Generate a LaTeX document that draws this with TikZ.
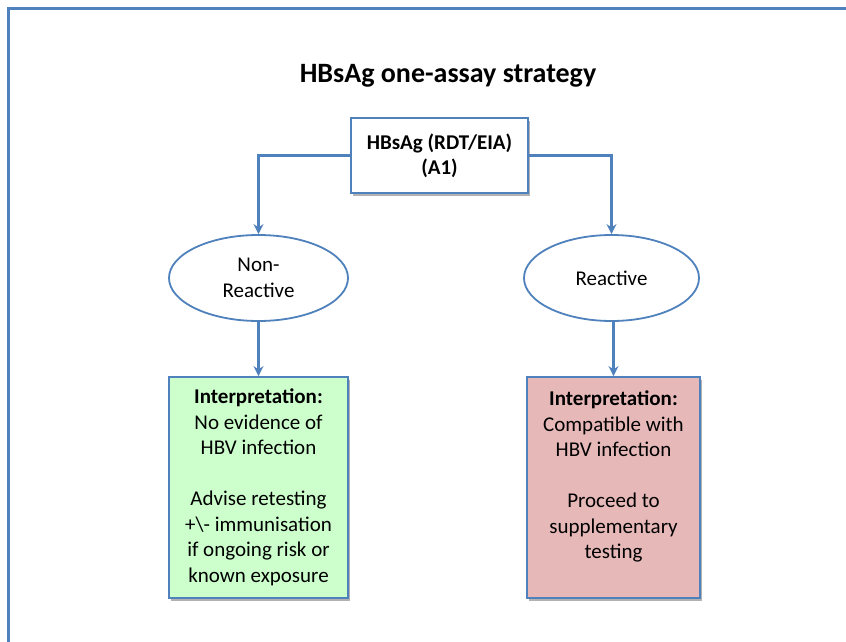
\documentclass[tikz,border=0pt]{standalone}
\usepackage{fontspec}
\setmainfont{Carlito}
\usetikzlibrary{shapes.geometric,arrows.meta,shadows}
\definecolor{msblue}{HTML}{4F81BD}
\definecolor{greenfill}{HTML}{CCFFCC}
\definecolor{redfill}{HTML}{E6B9B8}
\begin{document}
\begin{tikzpicture}[x=1pt,y=-1pt,
  conn/.style={draw=msblue, line width=2.4pt, -{Stealth[length=10pt,width=10pt]}},
  frameline/.style={draw=msblue, line width=3pt},
  boxshape/.style={draw=msblue, line width=1.8pt, align=center, inner sep=0pt,
    drop shadow={shadow xshift=2pt, shadow yshift=-3pt, opacity=0.3, fill=black}},
  oval/.style={ellipse, draw=msblue, line width=1.8pt, fill=white, align=center, inner sep=0pt},
  bodytext/.style={font=\fontsize{21}{25.5}\selectfont},
  titletext/.style={font=\fontsize{28}{34}\selectfont\bfseries}]
\useasboundingbox (0,0) rectangle (846,642);
\fill[white] (0,0) rectangle (846,642);
\draw[frameline] (8,643) -- (8,9) -- (847,9);

\node[titletext, anchor=base] (title) at (448,82) {HBsAg one-assay strategy};

\node[boxshape, fill=white, minimum width=177pt, minimum height=75pt,
      font=\fontsize{21}{25}\selectfont\bfseries] (top) at (439.5,155.5)
  {HBsAg (RDT/EIA)\\(A1)};

\node[oval, bodytext, minimum width=179pt, minimum height=86pt] (nr) at (258.5,278) {Non-\\Reactive};
\node[oval, bodytext, minimum width=175pt, minimum height=86pt] (re) at (611.5,278) {Reactive};

\node[boxshape, bodytext, fill=greenfill, minimum width=179pt, minimum height=221pt] (gbox) at (258.5,487.5)
  {\textbf{Interpretation:}\\No evidence of\\HBV infection\\ ~ \\Advise retesting\\+\textbackslash- immunisation\\if ongoing risk or\\known exposure};

\node[boxshape, bodytext, fill=redfill, minimum width=173pt, minimum height=221pt] (rbox) at (613.5,487.5)
  {\textbf{Interpretation:}\\Compatible with\\HBV infection\\ ~ \\Proceed to\\supplementary\\testing\\ ~ };

\draw[conn] (top.west) -| (nr.north);
\draw[conn] (top.east) -| (re.north);
\draw[conn] (nr.south) -- (gbox.north);
\draw[conn] (re.south -| rbox.north) -- (rbox.north);
\end{tikzpicture}
\end{document}
